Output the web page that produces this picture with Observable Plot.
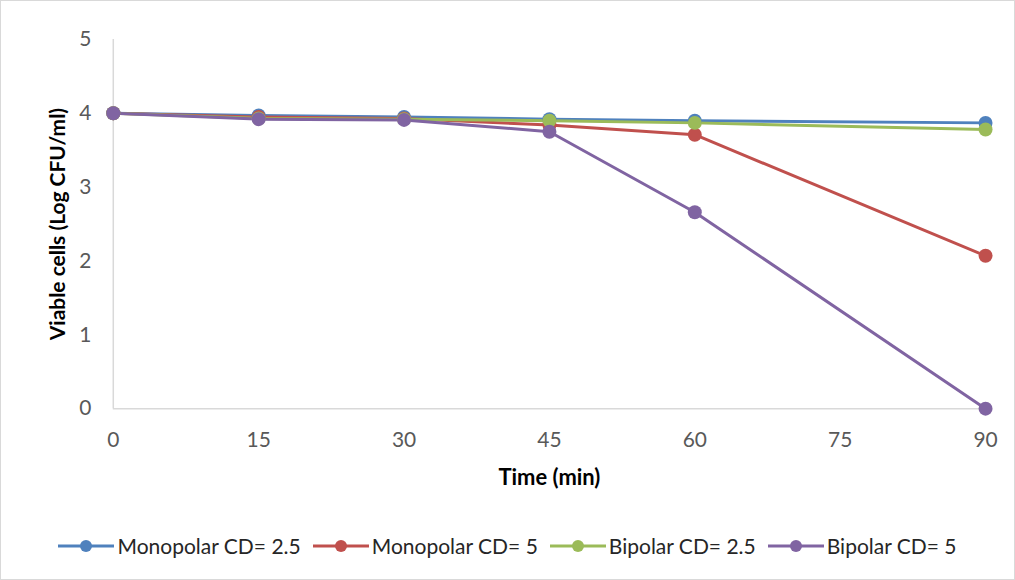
<!DOCTYPE html>
<html>
<head>
<meta charset="utf-8">
<script src="https://cdn.jsdelivr.net/npm/d3@7"></script>
<script src="https://cdn.jsdelivr.net/npm/@observablehq/plot@0.6"></script>
<style>
  html, body { margin: 0; padding: 0; background: #fff; }
  #wrap { position: relative; width: 1013px; height: 578px; border: 1px solid #d9d9d9; font-family: Lato, "Open Sans", sans-serif; overflow: hidden; }
  #legend { position: absolute; left: 0; top: 532px; width: 1013px; display: flex; justify-content: center; gap: 12px; font-size: 21px; color: #262626; }
  .item { display: flex; align-items: center; gap: 3px; }
</style>
</head>
<body>
<div id="wrap">
  <div id="chart"></div>
  <div id="legend"></div>
</div>
<script>
const times = [0, 15, 30, 45, 60, 90];
const xTicks = [0, 15, 30, 45, 60, 75, 90];
const yTicks = [0, 1, 2, 3, 4, 5];
const seriesNames = ["Monopolar CD= 2.5", "Monopolar CD= 5", "Bipolar CD= 2.5", "Bipolar CD= 5"];
const seriesColors = ["#4F81BD", "#C0504D", "#9BBB59", "#8064A2"];
const monopolar25 = [4.0, 3.97, 3.95, 3.92, 3.90, 3.87];
const monopolar5 = [4.0, 3.95, 3.93, 3.84, 3.71, 2.07];
const bipolar25 = [4.0, 3.93, 3.92, 3.90, 3.87, 3.78];
const bipolar5 = [4.0, 3.92, 3.91, 3.75, 2.66, 0.0];

const allSeries = [monopolar25, monopolar5, bipolar25, bipolar5];
const data = [];
allSeries.forEach((vals, i) => vals.forEach((v, j) => data.push({series: seriesNames[i], time: times[j], value: v})));

const chart = Plot.plot({
  width: 1015,
  height: 500,
  marginLeft: 112,
  marginRight: 29,
  marginTop: 38,
  marginBottom: 92,
  style: { fontFamily: "Lato, 'Open Sans', sans-serif", fontSize: "21px", color: "#595959", background: "#fff" },
  x: { domain: [0, 90] },
  y: { domain: [0, 5] },
  color: { domain: seriesNames, range: seriesColors },
  marks: [
    Plot.ruleX([xTicks[0]], { stroke: "#d9d9d9", strokeWidth: 1.5 }),
    Plot.ruleY([yTicks[0]], { stroke: "#d9d9d9", strokeWidth: 1.5 }),
    Plot.axisX({ ticks: xTicks, tickSize: 0, tickPadding: 23, fontSize: 21, label: null, tickFormat: d3.format("d") }),
    Plot.axisY({ ticks: yTicks, tickSize: 0, tickPadding: 22, fontSize: 21, label: null, tickFormat: d3.format("d") }),
    Plot.text(["Time (min)"], { frameAnchor: "bottom", lineAnchor: "middle", textAnchor: "middle", dy: 69, fontSize: 22, fontWeight: "bold", fill: "#000" }),
    Plot.text(["Viable cells (Log CFU/ml)"], { frameAnchor: "left", lineAnchor: "middle", textAnchor: "middle", dx: -55, rotate: -90, fontSize: 21, fontWeight: "bold", fill: "#000" }),
    Plot.line(data, { x: "time", y: "value", z: "series", stroke: "series", strokeWidth: 3, curve: "linear" }),
    Plot.dot(data, { x: "time", y: "value", fill: "series", r: 7 })
  ]
});
document.getElementById("chart").appendChild(chart);

const legend = document.getElementById("legend");
seriesNames.forEach((name, i) => {
  const item = document.createElement("div");
  item.className = "item";
  item.innerHTML = `<svg width="56" height="16"><line x1="0" y1="8" x2="56" y2="8" stroke="${seriesColors[i]}" stroke-width="3"/><circle cx="28" cy="8" r="6" fill="${seriesColors[i]}"/></svg><span>${name}</span>`;
  legend.appendChild(item);
});
</script>
</body>
</html>
